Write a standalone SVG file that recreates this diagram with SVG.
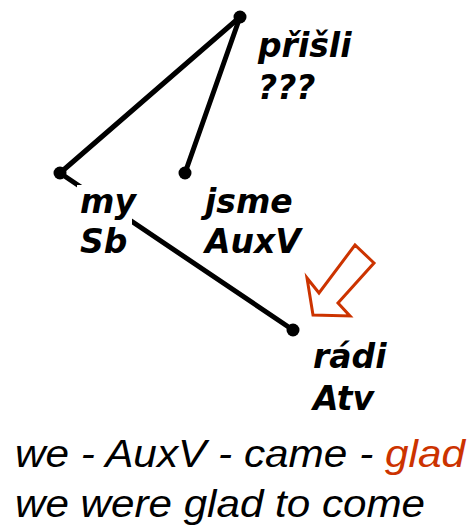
<svg xmlns="http://www.w3.org/2000/svg" width="472" height="528" viewBox="0 0 472 528">
<style>
.edge{stroke:#000;stroke-width:5;stroke-linecap:round;fill:none}
.dot{fill:#000}
.lbl{font-family:"DejaVu Sans",sans-serif;font-weight:bold;font-style:oblique;font-size:33px;fill:#000}
.cap{font-family:"Liberation Sans",Arial,sans-serif;font-style:italic;font-size:39px;fill:#000}
</style>
<rect width="472" height="528" fill="#fff"/>
<g id="connectors">
<line class="edge" x1="240" y1="17" x2="60" y2="173"/>
<line class="edge" x1="240" y1="17" x2="185" y2="173"/>
<line class="edge" x1="60" y1="173" x2="293" y2="330"/>
</g>
<g id="node-prisli">
<circle class="dot" cx="240" cy="17" r="6.5"/>
<text class="lbl" x="258" y="57">přišli</text>
<text class="lbl" x="258" y="99">???</text>
</g>
<g id="node-my">
<rect x="77" y="185" width="55" height="76" fill="#fff"/>
<circle class="dot" cx="60" cy="173" r="6.5"/>
<text class="lbl" x="80" y="213">my</text>
<text class="lbl" x="80" y="253">Sb</text>
</g>
<g id="node-jsme">
<circle class="dot" cx="185" cy="173" r="6.5"/>
<text class="lbl" x="205" y="213">jsme</text>
<text class="lbl" x="205" y="253">AuxV</text>
</g>
<g id="node-radi">
<circle class="dot" cx="293" cy="330" r="6.5"/>
<text class="lbl" x="313" y="368">rádi</text>
<text class="lbl" x="313" y="410">Atv</text>
</g>
<g id="arrow">
<polygon points="313,315 307,278 319,293 355,245 374,263 338,303 350,316" fill="#fff" stroke="#cc3300" stroke-width="3" stroke-linejoin="miter"/>
</g>
<g id="caption">
<text class="cap" x="15" y="467" textLength="450" lengthAdjust="spacingAndGlyphs">we - AuxV - came - <tspan fill="#cc3300">glad</tspan></text>
<text class="cap" x="15" y="517" textLength="410" lengthAdjust="spacingAndGlyphs">we were glad to come</text>
</g>
</svg>
